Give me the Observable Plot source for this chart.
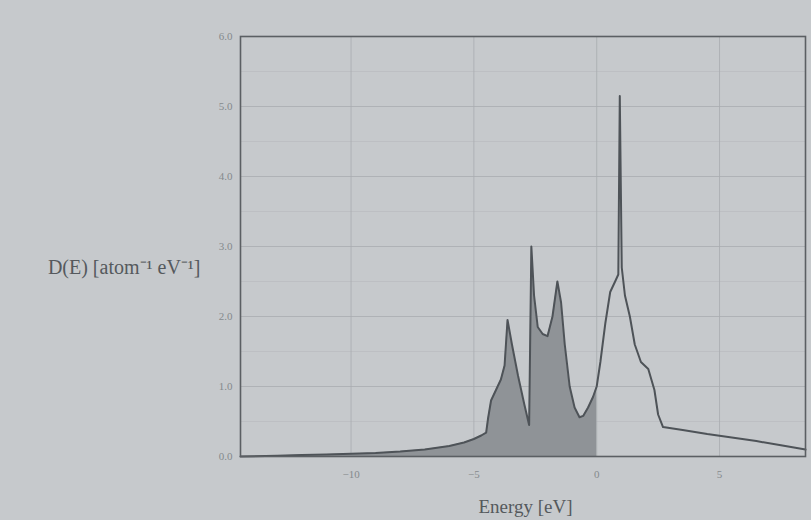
<!DOCTYPE html>
<html>
<head>
<meta charset="utf-8">
<script src="https://cdn.jsdelivr.net/npm/d3@7"></script>
<script src="https://cdn.jsdelivr.net/npm/@observablehq/plot@0.6"></script>
<style>
  html, body { margin: 0; padding: 0; background: #c6c9cc; }
  #chart { width: 811px; height: 520px; }
</style>
</head>
<body>
<div id="chart"></div>
<script>
// Energy (eV) and density of states D(E)
const energy = [-14.5, -13, -12, -11, -10, -9, -8, -7, -6, -5.4, -5.0, -4.7, -4.5, -4.42, -4.3, -4.1, -3.9, -3.75, -3.63, -3.45, -3.2, -2.95, -2.75, -2.66, -2.55, -2.4, -2.2, -2.0, -1.8, -1.6, -1.45, -1.3, -1.1, -0.9, -0.7, -0.55, -0.35, -0.15, 0, 0.15, 0.35, 0.55, 0.75, 0.88, 0.94, 1.02, 1.15, 1.35, 1.55, 1.8, 2.1, 2.35, 2.5, 2.7, 3.5, 4.5, 5.5, 6.5, 7.5, 8.5];
const dos    = [0.0, 0.01, 0.02, 0.03, 0.04, 0.05, 0.07, 0.1, 0.15, 0.2, 0.25, 0.3, 0.34, 0.55, 0.8, 0.95, 1.1, 1.3, 1.95, 1.6, 1.15, 0.75, 0.45, 3.0, 2.3, 1.85, 1.75, 1.72, 2.0, 2.5, 2.2, 1.6, 1.0, 0.7, 0.56, 0.58, 0.7, 0.85, 1.0, 1.35, 1.9, 2.35, 2.5, 2.6, 5.15, 2.7, 2.3, 2.0, 1.6, 1.35, 1.25, 0.95, 0.6, 0.42, 0.38, 0.32, 0.27, 0.22, 0.16, 0.1];
const xTicks = [-10, -5, 0, 5];
const yTicks = [0, 1, 2, 3, 4, 5, 6];
const yMinor = [0.5, 1.5, 2.5, 3.5, 4.5, 5.5];
const yLabel = "D(E) [atom\u207B\u00B9 eV\u207B\u00B9]";
const xLabel = "Energy [eV]";

const data = energy.map((e, i) => ({e, d: dos[i]}));
const occupied = data.filter(p => p.e <= 0);

const chart = Plot.plot({
  width: 811,
  height: 520,
  marginLeft: 240,
  marginRight: 6,
  marginTop: 36,
  marginBottom: 64,
  style: {background: "transparent", fontFamily: "Liberation Serif", fontSize: "11px", color: "#85898d"},
  x: {domain: [-14.5, 8.5]},
  y: {domain: [0, 6]},
  marks: [
    Plot.gridY(yMinor, {stroke: "#b3b6b9", strokeOpacity: 0.5}),
    Plot.gridY(yTicks, {stroke: "#a9acb0", strokeOpacity: 0.8}),
    Plot.gridX(xTicks, {stroke: "#a9acb0", strokeOpacity: 0.8}),
    Plot.areaY(occupied, {x: "e", y: "d", fill: "#8f9397", fillOpacity: 1}),
    Plot.line(data, {x: "e", y: "d", stroke: "#4e5358", strokeWidth: 2}),
    Plot.frame({stroke: "#5b5f63", strokeWidth: 1.6}),
    Plot.axisY(yTicks, {tickSize: 0, tickPadding: 8, tickFormat: d3.format(".1f"), label: null}),
    Plot.axisX(xTicks, {tickSize: 0, tickPadding: 14, label: null}),
    Plot.text([yLabel], {x: -14.5, y: 2.7, text: d => d, textAnchor: "end", dx: -40, fontSize: 20, fill: "#55595d"}),
    Plot.text([xLabel], {x: -2.9, y: 0, text: d => d, dy: 50, fontSize: 19, fill: "#55595d"})
  ]
});
document.getElementById("chart").append(chart);
</script>
</body>
</html>
